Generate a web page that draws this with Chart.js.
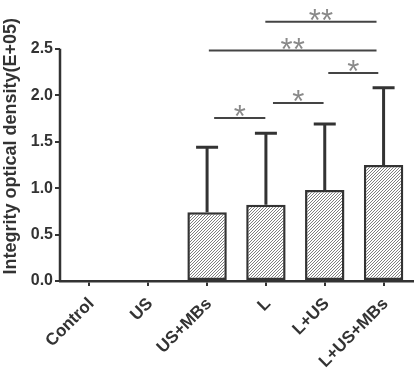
<!DOCTYPE html>
<html>
<head>
<meta charset="utf-8">
<script src="https://cdn.jsdelivr.net/npm/chart.js@4.4.0/dist/chart.umd.min.js"></script>
<style>
  html, body { margin: 0; padding: 0; background: #fff; }
  #wrap { width: 416px; height: 371px; }
</style>
</head>
<body>
<div id="wrap"><canvas id="chart"></canvas></div>
<script>
// groups and values (E+05)
const categories = ['Control', 'US', 'US+MBs', 'L', 'L+US', 'L+US+MBs'];
const means = [0, 0, 0.74, 0.82, 0.98, 1.25];
const sd = [0, 0, 0.70, 0.77, 0.71, 0.83];
const yTicks = [0, 0.5, 1.0, 1.5, 2.0, 2.5];

// significance brackets (category positions, height in data units)
const sigFrom = [2.12, 3.12, 4.06, 2.03, 2.99];
const sigTo = [2.99, 3.98, 4.91, 4.88, 4.88];
const sigY = [1.755, 1.915, 2.24, 2.48, 2.79];
const sigText = ['*', '*', '*', '**', '**'];

const ink = '#333';
const font = '"Liberation Sans", Arial, sans-serif';

// diagonal hatch for bars
function hatch() {
  const c = document.createElement('canvas');
  c.width = 3; c.height = 3;
  const g = c.getContext('2d');
  g.fillStyle = '#fff';
  g.fillRect(0, 0, 3, 3);
  g.strokeStyle = '#707070';
  g.lineWidth = 0.9;
  g.beginPath();
  g.moveTo(0, 3); g.lineTo(3, 0);
  g.moveTo(-1, 1); g.lineTo(1, -1);
  g.moveTo(2, 4); g.lineTo(4, 2);
  g.stroke();
  return g.createPattern(c, 'repeat');
}

const extras = {
  id: 'extras',
  afterDatasetsDraw(chart) {
    const ctx = chart.ctx;
    const x = chart.scales.x, y = chart.scales.y;
    ctx.save();
    // y axis line up to last tick
    ctx.strokeStyle = ink;
    ctx.lineWidth = 2.5;
    ctx.beginPath();
    ctx.moveTo(x.left, y.getPixelForValue(0) + 1);
    ctx.lineTo(x.left, y.getPixelForValue(yTicks[yTicks.length - 1]));
    ctx.stroke();

    // error bars (upper only)
    const meta = chart.getDatasetMeta(0);
    ctx.lineWidth = 3;
    meta.data.forEach((bar, i) => {
      if (!sd[i]) return;
      const top = y.getPixelForValue(means[i] + sd[i]);
      ctx.beginPath();
      ctx.moveTo(bar.x, bar.y);
      ctx.lineTo(bar.x, top);
      ctx.moveTo(bar.x - 11, top);
      ctx.lineTo(bar.x + 11, top);
      ctx.stroke();
    });

    // significance lines and stars
    ctx.font = '31px ' + font;
    ctx.textAlign = 'center';
    ctx.textBaseline = 'alphabetic';
    sigText.forEach((t, i) => {
      const x0 = x.getPixelForValue(sigFrom[i]);
      const x1 = x.getPixelForValue(sigTo[i]);
      const py = y.getPixelForValue(sigY[i]);
      ctx.strokeStyle = '#444';
      ctx.lineWidth = 2;
      ctx.beginPath();
      ctx.moveTo(x0, py);
      ctx.lineTo(x1, py);
      ctx.stroke();
      const m = ctx.measureText(t);
      ctx.fillStyle = '#8a8a8a';
      ctx.fillText(t, (x0 + x1) / 2, py - 1 - m.actualBoundingBoxDescent);
    });
    ctx.restore();
  }
};

new Chart(document.getElementById('chart'), {
  type: 'bar',
  data: {
    labels: categories,
    datasets: [{
      data: means,
      backgroundColor: hatch(),
      borderColor: ink,
      borderWidth: 2.5,
      borderSkipped: false,
      categoryPercentage: 1,
      barPercentage: 0.67
    }]
  },
  options: {
    responsive: true,
    maintainAspectRatio: false,
    animation: false,
    layout: { padding: { top: 0, right: 3, left: 0, bottom: 0 } },
    plugins: { legend: { display: false }, tooltip: { enabled: false } },
    scales: {
      x: {
        afterFit(scale) { scale.height = 90; },
        grid: { offset: false, drawOnChartArea: false, drawTicks: true, tickLength: 5, color: ink, lineWidth: 2 },
        border: { display: true, color: ink, width: 2.5 },
        ticks: {
          maxRotation: 45, minRotation: 45, padding: 8, labelOffset: 2,
          color: ink,
          font: { family: font, size: 17, weight: 'bold' }
        }
      },
      y: {
        min: 0, max: 2.9,
        afterFit(scale) { scale.width = 60; },
        afterBuildTicks(scale) { scale.ticks = yTicks.map(v => ({ value: v })); },
        grid: { drawOnChartArea: false, drawTicks: true, tickLength: 5, color: ink, lineWidth: 2 },
        border: { display: false },
        ticks: {
          padding: 2, color: ink,
          callback: v => v.toFixed(1),
          font: { family: font, size: 16, weight: 'bold' }
        },
        title: {
          display: true,
          text: 'Integrity optical density(E+05)',
          color: ink,
          padding: { top: 0, bottom: 2 },
          font: { family: font, size: 18, weight: 'bold' }
        }
      }
    }
  },
  plugins: [extras]
});
</script>
</body>
</html>
